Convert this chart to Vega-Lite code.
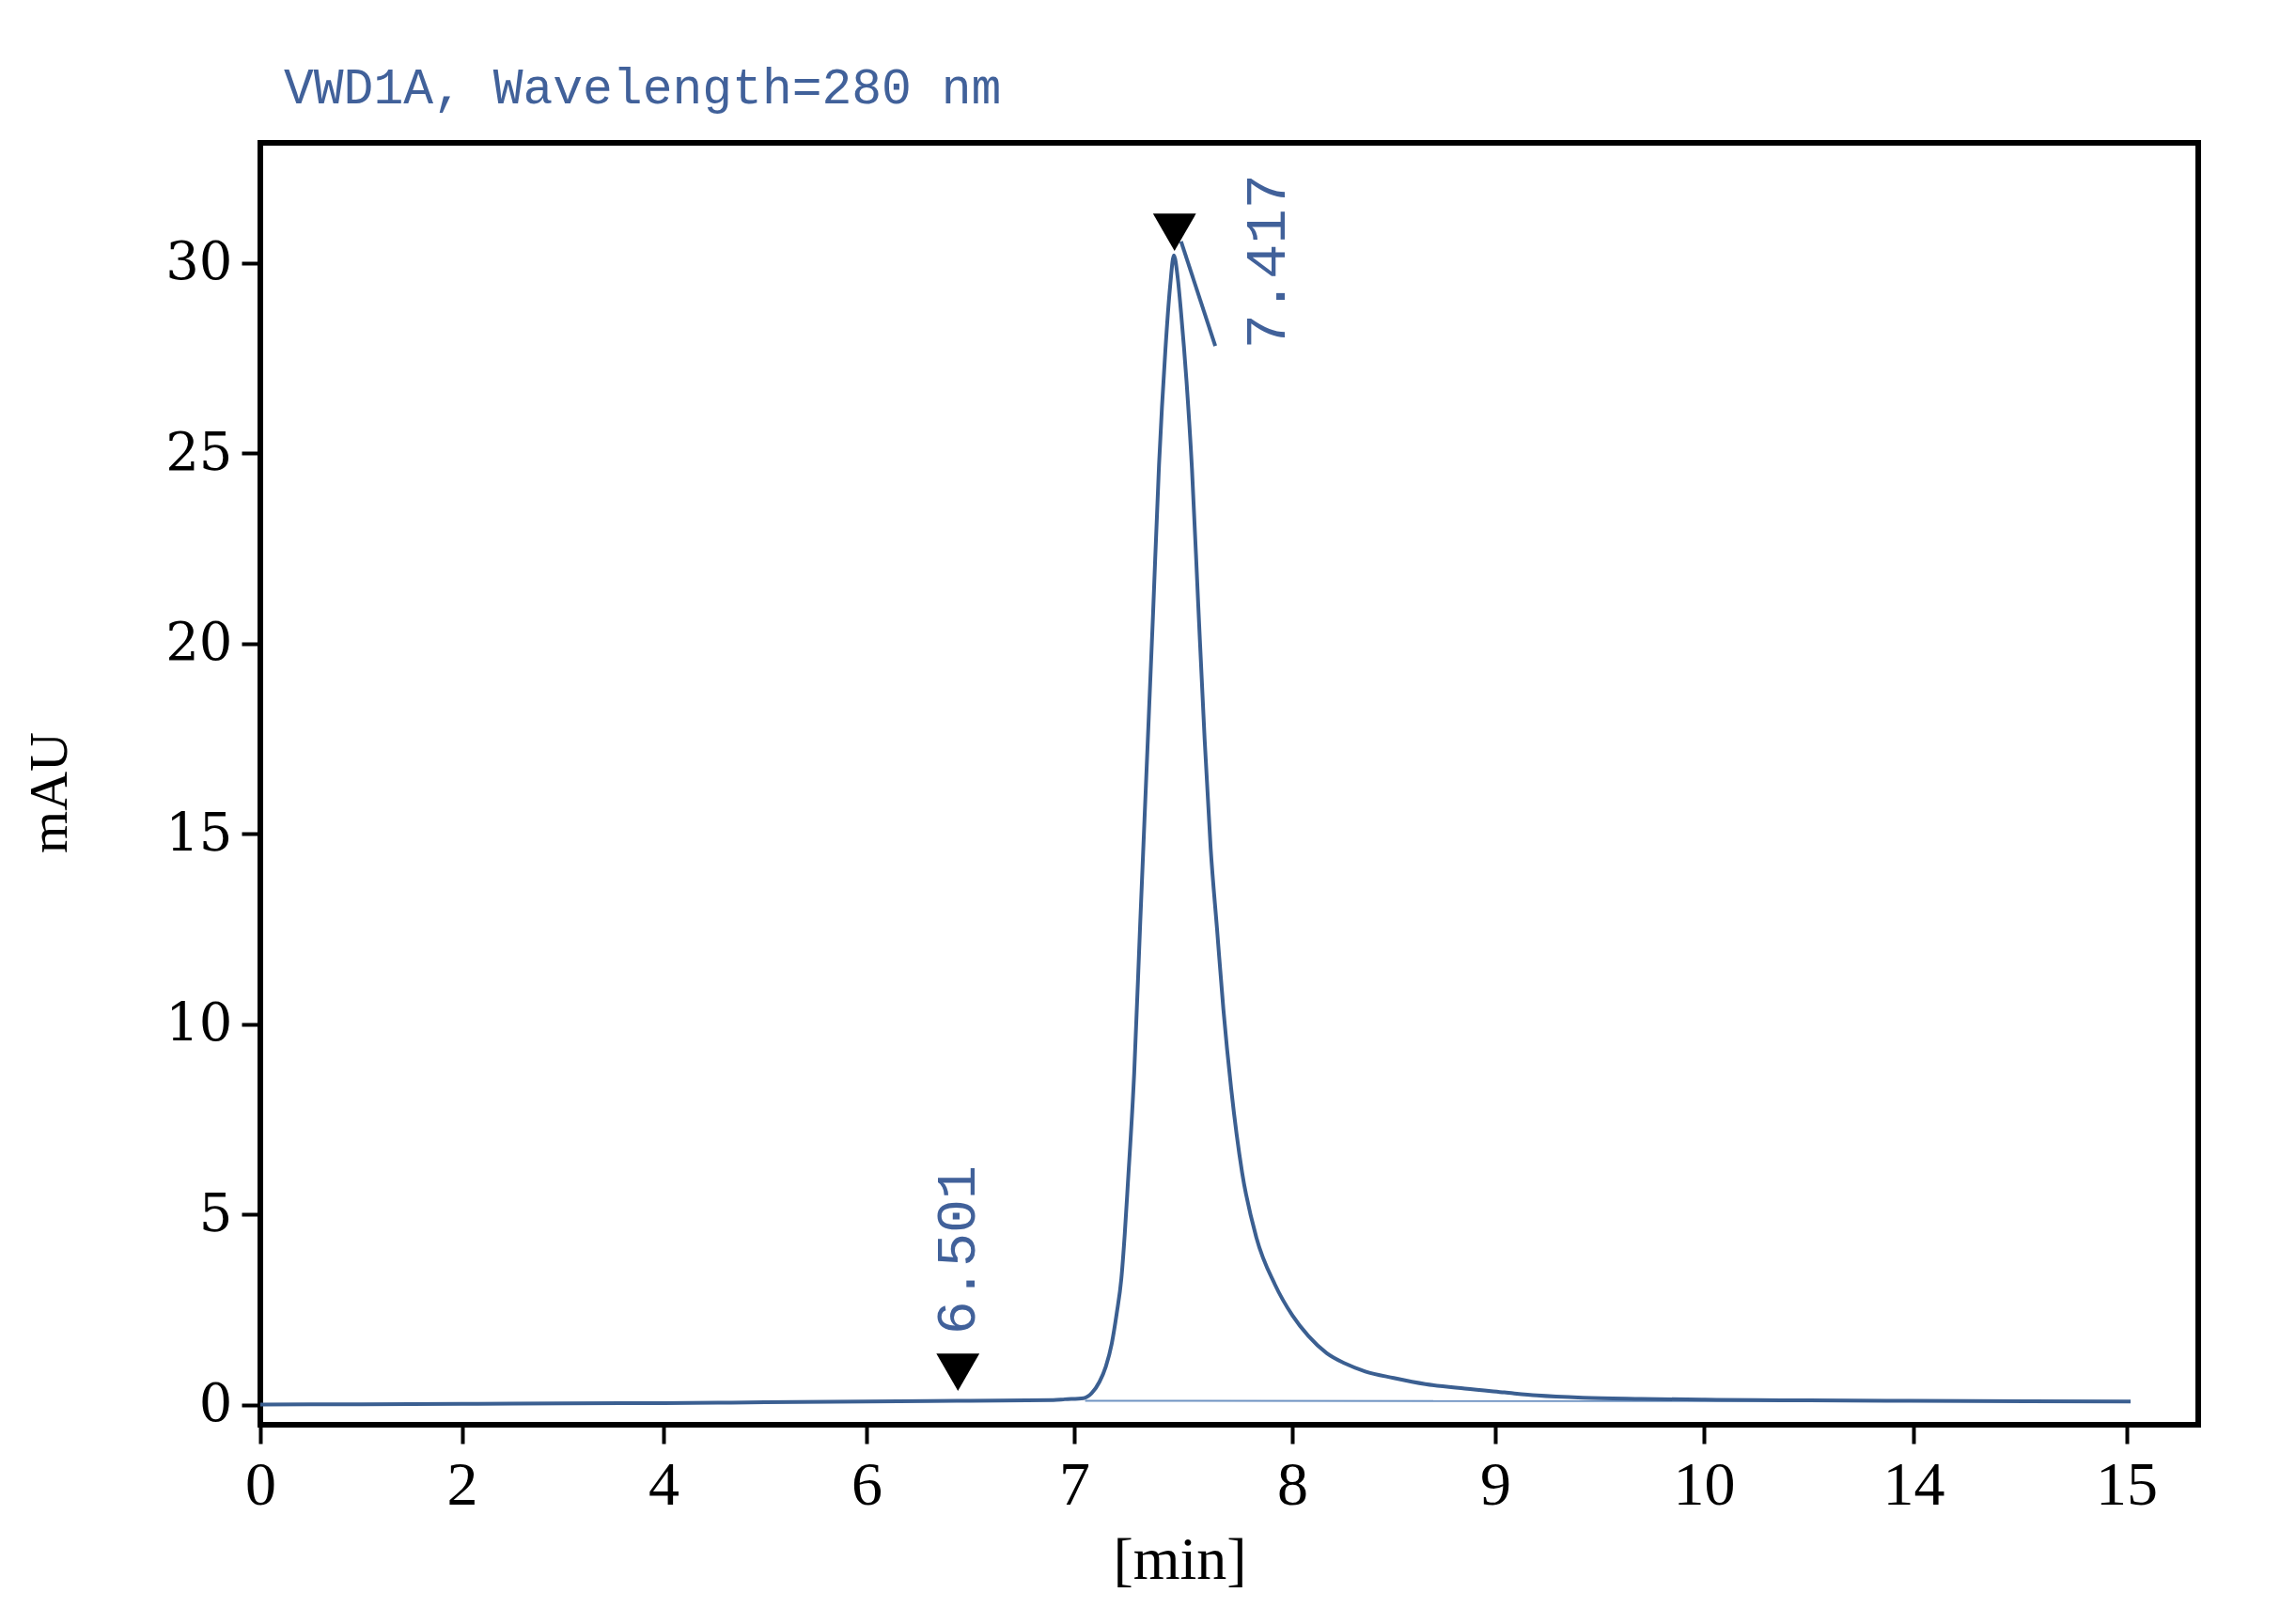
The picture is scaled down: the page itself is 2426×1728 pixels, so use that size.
{
  "$schema": "https://vega.github.io/schema/vega-lite/v6.json",
  "width": 2062,
  "height": 1364,
  "autosize": {"type": "none"},
  "padding": {"left": 277, "top": 152, "right": 87, "bottom": 212},
  "background": "white",
  "config": {"view": {"stroke": "black", "strokeWidth": 6}},
  "title": {
    "text": "VWD1A, Wavelength=280 nm",
    "anchor": "start",
    "frame": "group",
    "dx": 25,
    "dy": 52,
    "offset": 41,
    "baseline": "alphabetic",
    "font": "Liberation Mono",
    "fontSize": 53,
    "fontWeight": "normal",
    "color": "#41619a"
  },
  "datasets": {
    "trace": [
      {"t": 0, "v": 0.0}, {"t": 1, "v": 0.01}, {"t": 2, "v": 0.02}, {"t": 3, "v": 0.03},
      {"t": 4, "v": 0.04}, {"t": 5, "v": 0.06}, {"t": 6, "v": 0.08}, {"t": 6.5, "v": 0.1},
      {"t": 6.9, "v": 0.12}, {"t": 6.955, "v": 0.14}, {"t": 7.043, "v": 0.17}, {"t": 7.08, "v": 0.3},
      {"t": 7.116, "v": 0.6}, {"t": 7.145, "v": 1.0}, {"t": 7.172, "v": 1.6}, {"t": 7.195, "v": 2.4},
      {"t": 7.216, "v": 3.3}, {"t": 7.232, "v": 4.5}, {"t": 7.246, "v": 5.8}, {"t": 7.275, "v": 8.7},
      {"t": 7.303, "v": 12.7}, {"t": 7.332, "v": 16.7}, {"t": 7.361, "v": 20.7}, {"t": 7.389, "v": 24.7},
      {"t": 7.418, "v": 27.7}, {"t": 7.44, "v": 29.4}, {"t": 7.457, "v": 30.2}, {"t": 7.475, "v": 29.6},
      {"t": 7.49, "v": 28.7}, {"t": 7.515, "v": 26.9}, {"t": 7.54, "v": 24.6}, {"t": 7.569, "v": 21.0},
      {"t": 7.598, "v": 17.5}, {"t": 7.626, "v": 14.6}, {"t": 7.655, "v": 12.5}, {"t": 7.684, "v": 10.4},
      {"t": 7.72, "v": 8.3}, {"t": 7.77, "v": 6.1}, {"t": 7.835, "v": 4.4}, {"t": 7.921, "v": 3.15},
      {"t": 8.0, "v": 2.35}, {"t": 8.08, "v": 1.8}, {"t": 8.17, "v": 1.35},
      {"t": 8.26, "v": 1.08}, {"t": 8.36, "v": 0.87}, {"t": 8.5, "v": 0.7}, {"t": 8.656, "v": 0.54},
      {"t": 8.85, "v": 0.42}, {"t": 9.044, "v": 0.32}, {"t": 9.2, "v": 0.24}, {"t": 9.42, "v": 0.18},
      {"t": 9.7, "v": 0.15}, {"t": 9.99, "v": 0.13}, {"t": 11, "v": 0.12}, {"t": 12, "v": 0.11},
      {"t": 13.74, "v": 0.1}, {"t": 15.02, "v": 0.08}
    ],
    "baseline": [
      {"t": 7.05, "v": 0.1}, {"t": 15.0, "v": 0.09}
    ],
    "tangent": [
      {"t": 7.49, "v": 30.57}, {"t": 7.647, "v": 27.82}
    ],
    "peaks": [
      {"rt": "7.417", "t": 7.46, "v": 30.81},
      {"rt": "6.501", "t": 6.44, "v": 0.85}
    ]
  },
  "encoding": {
    "x": {
      "field": "t",
      "type": "quantitative",
      "scale": {
        "domain": [0, 2, 4, 6, 7, 8, 9, 10, 14, 15, 15.34],
        "range": [0, 214.6, 429, 645, 866, 1098, 1314, 1536, 1759, 1985.5, 2062],
        "nice": false,
        "zero": false
      },
      "axis": {
        "values": [0, 2, 4, 6, 7, 8, 9, 10, 14, 15],
        "title": "[min]",
        "grid": false,
        "domain": false,
        "tickSize": 20,
        "tickWidth": 4,
        "tickColor": "black",
        "labelFont": "Liberation Serif",
        "labelFontSize": 66,
        "labelColor": "black",
        "labelPadding": 12,
        "labelFlush": false,
        "labelOverlap": false,
        "titleFont": "Liberation Serif",
        "titleFontSize": 64,
        "titleFontWeight": "normal",
        "titleColor": "black",
        "titleX": 978,
        "titleY": 163,
        "titleBaseline": "alphabetic",
        "titleAlign": "center"
      }
    },
    "y": {
      "field": "v",
      "type": "quantitative",
      "scale": {"domain": [-0.53, 33.16], "nice": false, "zero": false},
      "axis": {
        "values": [0, 5, 10, 15, 20, 25, 30],
        "title": "mAU",
        "grid": false,
        "domain": false,
        "tickSize": 20,
        "tickWidth": 4,
        "tickColor": "black",
        "labelFont": "DejaVu Serif",
        "labelFontSize": 56,
        "labelColor": "black",
        "labelPadding": 10,
        "titleFont": "Liberation Serif",
        "titleFontSize": 58,
        "titleFontWeight": "normal",
        "titleColor": "black",
        "titleAngle": 270,
        "titleX": -224,
        "titleY": 691,
        "titleBaseline": "middle",
        "titleAlign": "center"
      }
    }
  },
  "layer": [
    {
      "data": {"name": "baseline"},
      "mark": {"type": "line", "color": "#6f93c2", "strokeWidth": 2},
      "encoding": {}
    },
    {
      "data": {"name": "trace"},
      "mark": {"type": "line", "color": "#3b5f91", "strokeWidth": 4, "interpolate": "monotone"},
      "encoding": {}
    },
    {
      "data": {"name": "tangent"},
      "mark": {"type": "line", "color": "#3b5f91", "strokeWidth": 4},
      "encoding": {}
    },
    {
      "data": {"name": "peaks"},
      "mark": {"type": "point", "shape": "triangle-down", "filled": true, "color": "black", "opacity": 1, "size": 2100},
      "encoding": {}
    },
    {
      "data": {"name": "peaks"},
      "transform": [{"filter": "datum.rt == '7.417'"}],
      "mark": {"type": "text", "angle": 270, "align": "left", "baseline": "middle", "dx": -124, "dy": 98, "font": "Liberation Mono", "fontSize": 62, "color": "#41619a"},
      "encoding": {"text": {"field": "rt"}}
    },
    {
      "data": {"name": "peaks"},
      "transform": [{"filter": "datum.rt == '6.501'"}],
      "mark": {"type": "text", "angle": 270, "align": "left", "baseline": "middle", "dx": 40, "dy": 0, "font": "Liberation Mono", "fontSize": 60, "color": "#41619a"},
      "encoding": {"text": {"field": "rt"}}
    }
  ]
}
